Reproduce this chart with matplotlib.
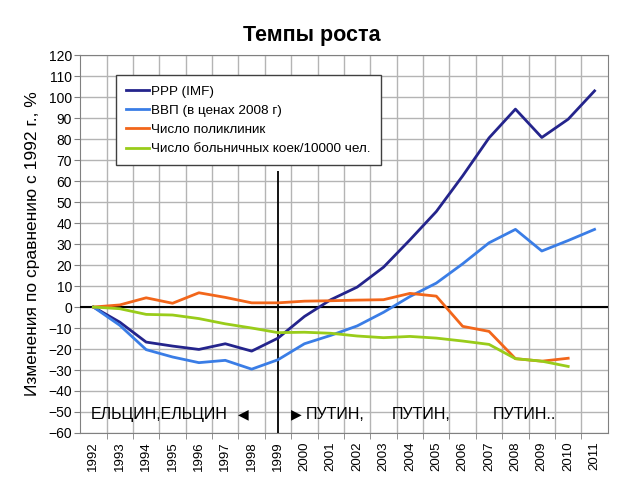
import matplotlib
matplotlib.use("Agg")
import matplotlib.pyplot as plt
from matplotlib.ticker import MultipleLocator

plt.rcParams['font.family'] = ['Liberation Sans', 'DejaVu Sans']

# data (% change vs 1992)
years = list(range(1992, 2012))
ppp_imf = [0, -7.2, -16.7, -18.6, -20.2, -17.5, -21.0, -14.8, -4.5, 3.5,
           9.5, 19.0, 32.0, 45.5, 62.5, 80.6, 94.3, 80.8, 89.5, 103.0]
vvp_2008 = [0, -8.7, -20.3, -23.8, -26.5, -25.4, -29.6, -25.1, -17.5, -13.5,
            -9.0, -2.5, 5.0, 11.4, 20.6, 30.6, 37.0, 26.7, 31.7, 37.0]
years_short = list(range(1992, 2011))
clinics = [0, 1.0, 4.4, 1.8, 6.8, 4.6, 2.0, 2.0, 2.8, 3.0,
           3.3, 3.5, 6.5, 5.2, -9.2, -11.6, -24.6, -25.8, -24.4]
beds = [0, -0.8, -3.5, -3.8, -5.5, -8.0, -10.0, -12.2, -12.0, -12.5,
        -13.8, -14.6, -14.0, -14.8, -16.2, -17.8, -24.6, -25.8, -28.3]

labels = ['PPP (IMF)', 'ВВП (в ценах 2008 г)', 'Число поликлиник',
          'Число больничных коек/10000 чел.']
colors = ['#24248C', '#3A7DE6', '#F2661A', '#99CC1A']

fig = plt.figure(figsize=(6.17, 4.8), dpi=100)
ax = fig.add_axes([0.13, 0.098, 0.855, 0.787])

ax.plot(years, ppp_imf, color=colors[0], lw=2, label=labels[0], zorder=4)
ax.plot(years, vvp_2008, color=colors[1], lw=2, label=labels[1], zorder=4)
ax.plot(years_short, clinics, color=colors[2], lw=2, label=labels[2], zorder=4)
ax.plot(years_short, beds, color=colors[3], lw=2, label=labels[3], zorder=4)

# zero line and the 1999 divider
ax.axhline(0, color='black', lw=1.5, zorder=3)
ax.vlines(1999, -60, 65, color='black', lw=1.3, zorder=3)

ax.set_xlim(1991.5, 2011.5)
ax.set_ylim(-60, 120)
ax.yaxis.set_major_locator(MultipleLocator(10))
ax.set_xticks(years)
ax.set_xticklabels([str(y) for y in years], rotation=90, fontsize=9.5)
ax.set_xticks([y + 0.5 for y in years[:-1]], minor=True)
ax.tick_params(axis='x', which='major', length=0, pad=6)
ax.tick_params(axis='x', which='minor', length=4, color='#808080')
ax.tick_params(axis='y', length=4, color='#808080', labelsize=10, pad=2)

ax.grid(True, axis='y', which='major', color='#b4b4b4', lw=1)
ax.grid(True, axis='x', which='minor', color='#b4b4b4', lw=1)
ax.set_axisbelow(True)
for s in ax.spines.values():
    s.set_color('#808080')

ax.set_ylabel('Изменения по сравнению с 1992 г., %', fontsize=12.5, labelpad=6)
fig.text(0.505, 0.925, 'Темпы роста', ha='center', va='center',
         fontsize=15.5, fontweight='bold')

# era labels
ax.text(1991.9, -51, 'ЕЛЬЦИН,ЕЛЬЦИН', fontsize=11.5, va='center')
ax.text(1997.7, -51, '◀', fontsize=10, va='center', ha='center')
ax.text(1999.7, -51, '▶', fontsize=10, va='center', ha='center')
ax.text(2000.05, -51, 'ПУТИН,', fontsize=11.5, va='center')
ax.text(2003.3, -51, 'ПУТИН,', fontsize=11.5, va='center')
ax.text(2007.15, -51, 'ПУТИН..', fontsize=11.5, va='center')

leg = ax.legend(loc='upper left', bbox_to_anchor=(0.068, 0.947),
                borderaxespad=0, fontsize=9.7, handlelength=1.7,
                handletextpad=0.15, labelspacing=0.5, borderpad=0.75,
                fancybox=False, framealpha=1)
leg.get_frame().set_edgecolor('#404040')
leg.get_frame().set_linewidth(1)

fig.savefig('out.png', dpi=100)
